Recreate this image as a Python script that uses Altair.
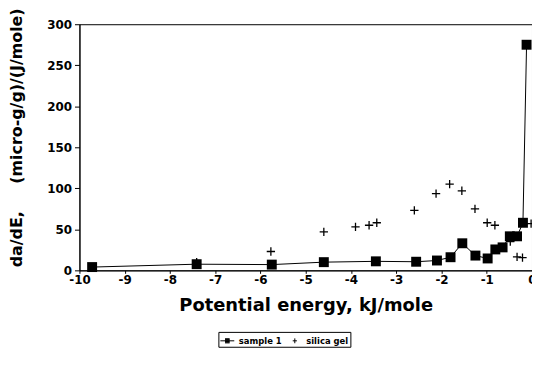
import altair as alt
import pandas as pd

# --- data ---
series_names = ["sample 1", "silica gel"]

sample1_x = [-9.72, -7.41, -5.75, -4.6, -3.45, -2.56, -2.1, -1.8, -1.54, -1.25,
             -0.98, -0.81, -0.65, -0.49, -0.33, -0.2, -0.12]
sample1_y = [4, 7.5, 7, 10, 11, 10.5, 12, 16, 33, 18,
             14.5, 25.5, 28, 41.5, 41.5, 58, 275]

silica_x = [-7.41, -5.77, -4.6, -3.9, -3.6, -3.43, -2.6, -2.12, -1.82, -1.55,
            -1.26, -0.99, -0.82, -0.48, -0.33, -0.21, -0.02]
silica_y = [10, 23, 47, 53, 55, 58, 73, 93.5, 105, 97,
            75, 58, 55, 35, 16.5, 15.5, 57]

x_ticks = [-10, -9, -8, -7, -6, -5, -4, -3, -2, -1, 0]
y_ticks = [0, 50, 100, 150, 200, 250, 300]

rows = []
for x, y in zip(sample1_x, sample1_y):
    rows.append({"E": x, "v": y, "series": series_names[0]})
for x, y in zip(silica_x, silica_y):
    rows.append({"E": x, "v": y, "series": series_names[1]})
df = pd.DataFrame(rows)

FONT = "DejaVu Sans"
NB = "\u00a0"
y_title = "da/dE," + NB * 5 + "(micro-g/g)/(J/mole)"

xenc = alt.X("E:Q", scale=alt.Scale(domain=[-10, 0], nice=False, zero=False),
             axis=alt.Axis(values=x_ticks, labelExpr="'' + datum.value",
                           title="Potential energy, kJ/mole",
                           tickSize=3, labelPadding=1, titleY=40,
                           titleBaseline="alphabetic", labelFlush=False))
yenc = alt.Y("v:Q", scale=alt.Scale(domain=[0, 300], nice=False),
             axis=alt.Axis(values=y_ticks, title=y_title, tickSize=5, labelPadding=3,
                           titleAngle=-90, titleX=-63, titleY=114, titleFontSize=16,
                           titleBaseline="middle", titleAlign="center"))

base = alt.Chart(df)

line = base.transform_filter(alt.datum.series == series_names[0]).mark_line(
    color="black", strokeWidth=1
).encode(x=xenc, y=yenc, order="E:Q")

squares = base.transform_filter(alt.datum.series == series_names[0]).mark_square(
    color="black", size=100, opacity=1
).encode(x="E:Q", y="v:Q")

pluses = base.transform_filter(alt.datum.series == series_names[1]).mark_point(
    shape="M-1,0H1M0,-1V1", filled=False, color="black", strokeWidth=1.3,
    size=70, opacity=1
).encode(x="E:Q", y="v:Q")

# legend symbols: line with a (hatched = solid-looking) square, and a small plus
sq = "M-1,0H1" + "".join("M-0.33,%.2fH0.33" % t for t in [-0.3, -0.2, -0.1, 0.0, 0.1, 0.2, 0.3])
legend_layer = base.transform_filter("false").mark_point(
    filled=False, color="black", strokeWidth=1, opacity=1
).encode(
    x="E:Q", y="v:Q",
    shape=alt.Shape("series:N",
                    scale=alt.Scale(domain=series_names,
                                    range=[sq, "M-0.3,0H0.3M0,-0.35V0.35"]),
                    legend=alt.Legend(title=None, orient="none", legendX=140, legendY=310,
                                      direction="horizontal", padding=1.5,
                                      columnPadding=5, labelOffset=4,
                                      symbolSize=196, symbolStrokeColor="black",
                                      symbolStrokeWidth=1, symbolOpacity=1,
                                      labelFont=FONT, labelFontSize=8.5,
                                      labelFontWeight="bold", labelColor="black",
                                      strokeColor="black"))
)

chart = alt.layer(line, squares, pluses, legend_layer).properties(
    width=456, height=248,
    autosize=alt.AutoSizeParams(type="none"),
    padding={"left": 72, "top": 15, "right": 0, "bottom": 92},
    background="white",
).configure_view(
    stroke="black", strokeWidth=1
).configure_axis(
    grid=False, domainColor="black", tickColor="black", labelColor="black",
    titleColor="black", labelFont=FONT, labelFontSize=12, labelFontWeight="bold",
    titleFont=FONT, titleFontSize=18, titleFontWeight="bold"
)

chart.save("out.html", embed_options={"renderer": "svg", "actions": False})
